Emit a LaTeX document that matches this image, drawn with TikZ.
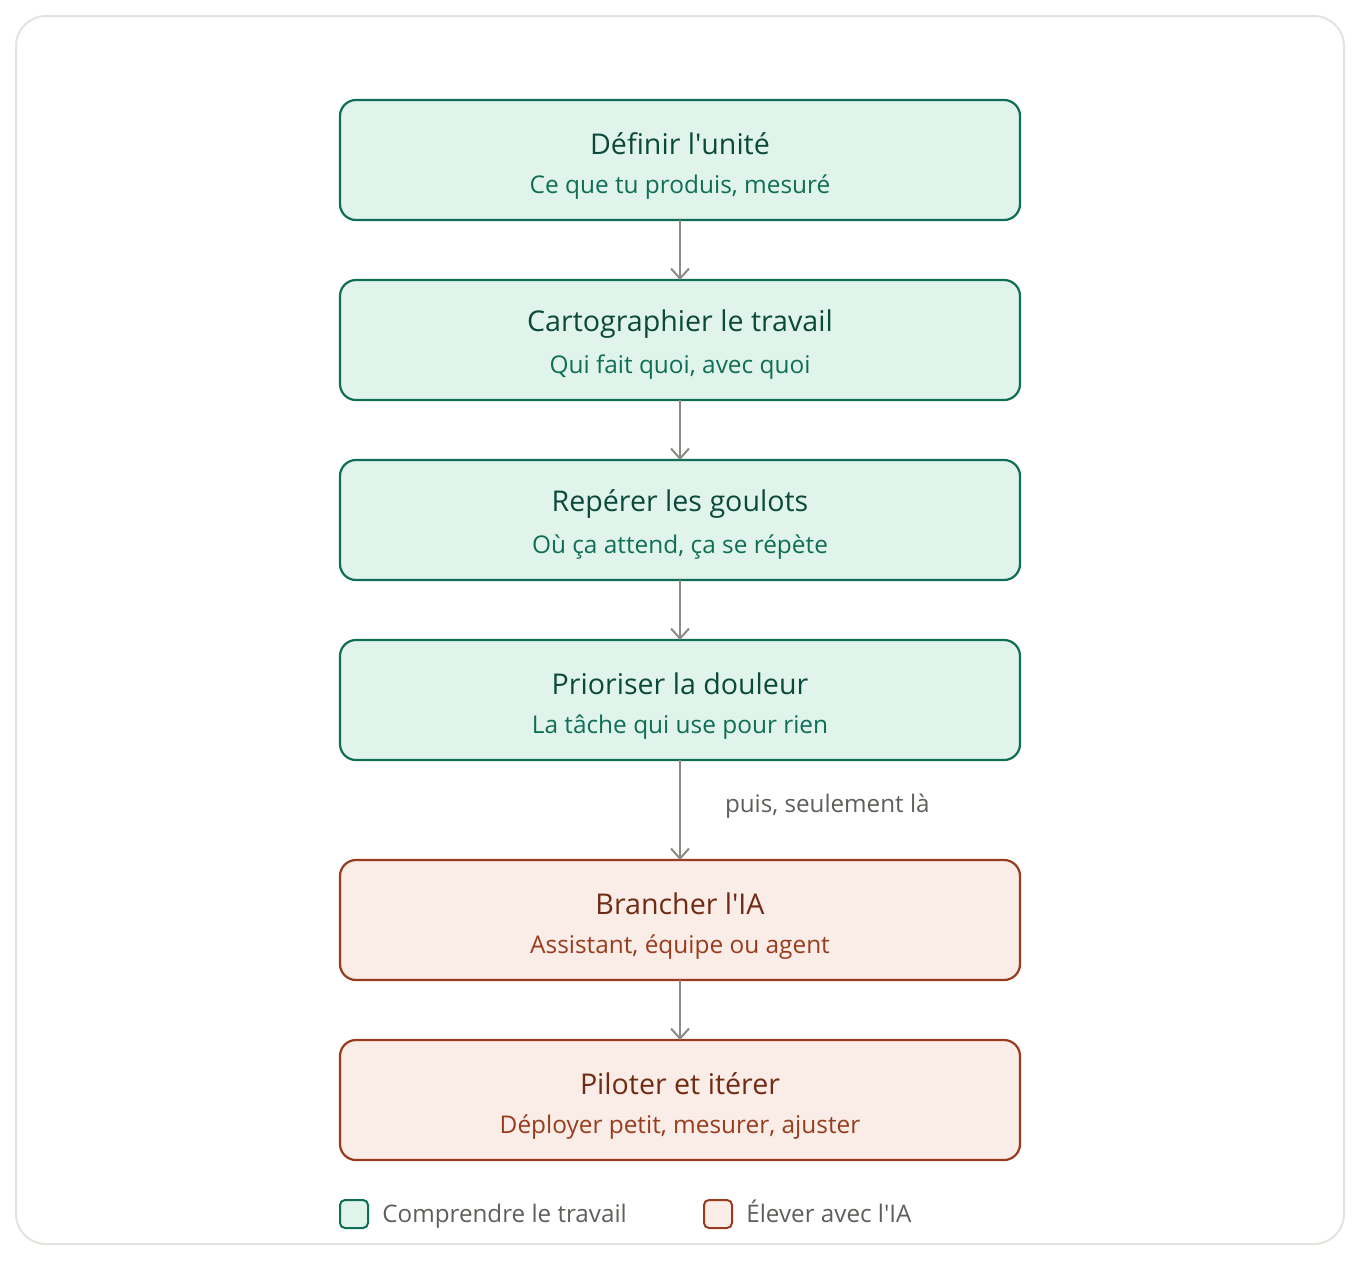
\documentclass[tikz,border=0pt]{standalone}
\usepackage{fontspec}
\setmainfont{Open Sans}
\usepackage{xcolor}
\definecolor{grnfill}{HTML}{E1F4EC}
\definecolor{grndraw}{HTML}{0F6E56}
\definecolor{grntitle}{HTML}{0B4A3B}
\definecolor{redfill}{HTML}{FAECE7}
\definecolor{reddraw}{HTML}{993C1D}
\definecolor{redtitle}{HTML}{712B13}
\definecolor{arrowgray}{HTML}{8C8A85}
\definecolor{textgray}{HTML}{5F5E5A}
\definecolor{framegray}{HTML}{E5E3DE}
\usetikzlibrary{arrows.meta, positioning}

\begin{document}
\begin{tikzpicture}[
  x=0.5pt, y=-0.5pt,
  node distance=30pt,
  stepgrn/.style={rectangle, rounded corners=8pt, draw=grndraw, fill=grnfill,
                  line width=1.1pt, minimum width=340pt, minimum height=60pt,
                  inner sep=0pt, outer sep=0pt},
  stepred/.style={stepgrn, draw=reddraw, fill=redfill},
  ttlgrn/.style={font=\fontsize{14.3}{17}\selectfont, text=grntitle, inner sep=0pt},
  subgrn/.style={font=\fontsize{12.2}{14}\selectfont, text=grndraw, inner sep=0pt},
  ttlred/.style={ttlgrn, text=redtitle},
  subred/.style={subgrn, text=reddraw},
  keybox/.style={rectangle, rounded corners=2.5pt, line width=1pt,
                 minimum size=14pt, inner sep=0pt},
  keytxt/.style={font=\fontsize{12.1}{14}\selectfont, text=textgray, inner sep=0pt,
                 text height=9pt, text depth=3pt, anchor=west},
  flow/.style={-{Straight Barb[length=5pt, width=9pt]}, arrowgray, line width=1pt},
]

% Frame
\draw[framegray, line width=1pt, rounded corners=15pt] (16,16) rectangle (1344,1244);
\useasboundingbox (0,0) rectangle (1360,1260);

% Steps
\node[stepgrn] (unite) at (680,160) {};
\node[stepgrn, below=of unite] (carto) {};
\node[stepgrn, below=of carto] (goulots) {};
\node[stepgrn, below=of goulots] (douleur) {};
\node[stepred, below=50pt of douleur] (ia) {};
\node[stepred, below=of ia] (piloter) {};

% Texts
\node[ttlgrn] at ([yshift=8pt]unite.center) {Définir l\textquotesingle unité};
\node[subgrn] at ([yshift=-13.5pt]unite.center) {Ce que tu produis, mesuré};
\node[ttlgrn] at ([yshift=8pt]carto.center) {Cartographier le travail};
\node[subgrn] at ([yshift=-13.5pt]carto.center) {Qui fait quoi, avec quoi};
\node[ttlgrn] at ([yshift=8pt]goulots.center) {Repérer les goulots};
\node[subgrn] at ([yshift=-13.5pt]goulots.center) {Où ça attend, ça se répète};
\node[ttlgrn] at ([yshift=8pt]douleur.center) {Prioriser la douleur};
\node[subgrn] at ([yshift=-13.5pt]douleur.center) {La tâche qui use pour rien};
\node[ttlred] at ([yshift=8pt]ia.center) {Brancher l\textquotesingle IA};
\node[subred] at ([yshift=-13.5pt]ia.center) {Assistant, équipe ou agent};
\node[ttlred] at ([yshift=8pt]piloter.center) {Piloter et itérer};
\node[subred] at ([yshift=-13.5pt]piloter.center) {Déployer petit, mesurer, ajuster};

% Arrows
\draw[flow] (unite) -- (carto);
\draw[flow] (carto) -- (goulots);
\draw[flow] (goulots) -- (douleur);
\draw[flow] (douleur) -- node[keytxt, right=22pt, yshift=2pt] (puis) {puis, seulement là} (ia);
\draw[flow] (ia) -- (piloter);

% Legend
\node[keybox, draw=grndraw, fill=grnfill] (keygrn) at (354,1214) {};
\node[keytxt, right=6.5pt of keygrn, yshift=-1pt] (lblgrn) {Comprendre le travail};
\node[keybox, draw=reddraw, fill=redfill] (keyred) at (718,1214) {};
\node[keytxt, right=6.5pt of keyred, yshift=-1pt] (lblred) {Élever avec l\textquotesingle IA};

\end{tikzpicture}
\end{document}
